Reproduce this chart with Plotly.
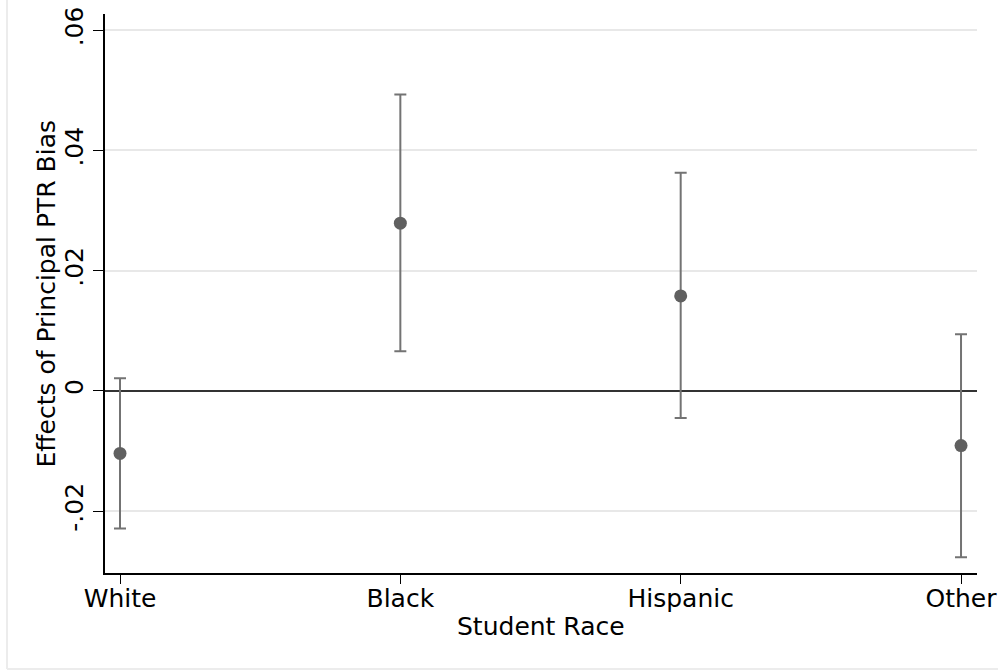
import plotly.graph_objects as go

# Estimated effects by student race with 95% confidence bounds
categories = ["White", "Black", "Hispanic", "Other"]
estimates = [-0.0104, 0.0279, 0.0158, -0.0091]
upper_ci = [0.0021, 0.0493, 0.0363, 0.0094]
lower_ci = [-0.0229, 0.0066, -0.0045, -0.0277]

y_ticks = [-0.02, 0, 0.02, 0.04, 0.06]
y_tick_labels = ["-.02", "0", ".02", ".04", ".06"]

x_title = "Student Race"
y_title = "Effects of Principal PTR Bias"

W, H = 998, 671
L, R, T, B = 105, 21, 14, 98

x_pos = list(range(len(categories)))
err_plus = [u - e for u, e in zip(upper_ci, estimates)]
err_minus = [e - l for e, l in zip(estimates, lower_ci)]

font_family = "DejaVu Sans, sans-serif"
FS = 25

pw = W - L - R
ph = H - T - B
def px_x(p):
    return (p - L) / pw
def px_y(p):
    return (H - B - p) / ph

fig = go.Figure()
fig.add_trace(go.Scatter(
    x=x_pos, y=estimates, mode="markers",
    marker=dict(size=13, color="#606060"),
    error_y=dict(type="data", symmetric=False, array=err_plus, arrayminus=err_minus,
                 color="#737373", thickness=2, width=6),
    showlegend=False, cliponaxis=False,
))

fig.update_layout(
    width=W, height=H,
    margin=dict(l=L, r=R, t=T, b=B, autoexpand=False),
    paper_bgcolor="white", plot_bgcolor="white",
    font=dict(family=font_family, size=FS, color="black"),
    xaxis=dict(
        range=[-0.0535, 3.057], tickvals=x_pos, ticktext=categories,
        automargin=False, ticklabelstandoff=-7,
        showgrid=False, zeroline=False, showline=True, linecolor="black", linewidth=1.5,
        ticks="outside", ticklen=9, tickwidth=1.2, tickcolor="black",
        tickfont=dict(size=FS),
    ),
    yaxis=dict(
        range=[-0.0303, 0.0627], tickvals=y_ticks, ticktext=y_tick_labels, tickangle=-90,
        automargin=False,
        showgrid=True, gridcolor="#e8e8e8", gridwidth=2,
        zeroline=True, zerolinecolor="#333333", zerolinewidth=2,
        showline=True, linecolor="black", linewidth=1.5,
        ticks="outside", ticklen=10, tickwidth=1.2, tickcolor="black",
        tickfont=dict(size=FS),
    ),
)

# Axis titles
fig.add_annotation(text=x_title, xref="paper", yref="paper",
                   x=0.5, y=px_y(626), xanchor="center", yanchor="middle",
                   showarrow=False, font=dict(size=FS))
fig.add_annotation(text=y_title, xref="paper", yref="paper", textangle=-90,
                   x=px_x(46), y=0.5, xanchor="center", yanchor="middle",
                   showarrow=False, font=dict(size=FS))

# Light outer frame on the left and bottom edges of the graph region
fig.add_shape(type="line", xref="paper", yref="paper",
              x0=px_x(7), x1=px_x(7), y0=px_y(0), y1=px_y(669),
              line=dict(color="#ececec", width=2))
fig.add_shape(type="line", xref="paper", yref="paper",
              x0=px_x(7), x1=px_x(998), y0=px_y(669), y1=px_y(669),
              line=dict(color="#ececec", width=2))

fig.write_html("out.html")
